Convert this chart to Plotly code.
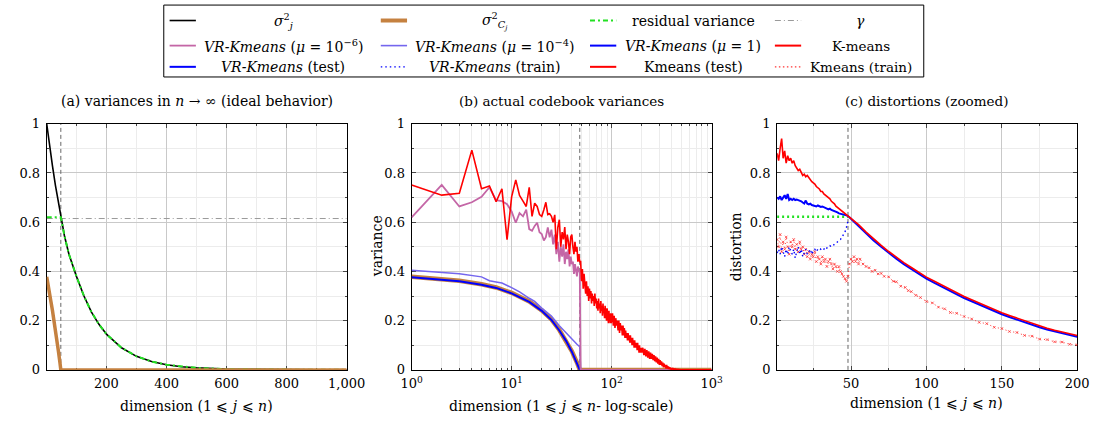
import plotly.graph_objects as go

W, H = 1115, 430
FONT = "DejaVu Serif"


def X(px):
    return px / W


def Y(py):
    return 1 - py / H


# ---------------- data ----------------
cut_dim = 48
gamma_val = 0.615

# panel (a): ideal variances
dims_a = [1, 10, 20, 30, 40, 48, 60, 75, 100, 125, 150, 175, 200, 250, 300, 350,
          400, 450, 500, 600, 700, 800, 900, 1000]
sigma_j = [1.0, 0.915, 0.83, 0.75, 0.68, 0.62, 0.545, 0.47, 0.38, 0.30, 0.235, 0.185,
           0.145, 0.09, 0.055, 0.034, 0.021, 0.013, 0.008, 0.003, 0.0012, 0.0005,
           0.0002, 0.0001]
resid_dims = [1, 48, 60, 75, 100, 125, 150, 175, 200, 250, 300, 350, 400, 450, 500,
              600, 700, 800, 900, 1000]
resid_var = [0.62, 0.62, 0.545, 0.47, 0.38, 0.30, 0.235, 0.185, 0.145, 0.09, 0.055,
             0.034, 0.021, 0.013, 0.008, 0.003, 0.0012, 0.0005, 0.0002, 0.0001]
gamma_dims = [1, 1000]
gamma_line = [gamma_val, gamma_val]

sigC_dims = [1, 2, 3, 5, 7, 10, 15, 20, 25, 30, 35, 40, 45, 48, 1000]
sigma_C = [0.378, 0.369, 0.362, 0.348, 0.335, 0.313, 0.278, 0.242, 0.205, 0.162,
           0.12, 0.076, 0.03, 0.0, 0.0]

# panel (b): actual codebook variances
vr_mu1 = [0.376, 0.367, 0.360, 0.346, 0.333, 0.311, 0.276, 0.240, 0.203, 0.160,
          0.118, 0.074, 0.028, 0.0, 0.0]
mu4_dims = [1, 2, 3, 5, 6, 7, 8, 10, 12, 15, 17, 20, 25, 30, 35, 40, 45, 48, 49, 1000]
vr_mu4 = [0.405, 0.398, 0.391, 0.378, 0.362, 0.357, 0.353, 0.334, 0.317, 0.291,
          0.278, 0.251, 0.219, 0.179, 0.149, 0.123, 0.104, 0.094, 0.0, 0.0]
mu6_dims = list(range(1, 50)) + [1000]
vr_mu6 = [0.62, 0.752, 0.664, 0.681, 0.703, 0.742, 0.690, 0.686, 0.673, 0.644,
          0.598, 0.637, 0.624, 0.651, 0.572, 0.565, 0.585, 0.598, 0.559, 0.552,
          0.526, 0.539, 0.579, 0.539, 0.57, 0.51, 0.55, 0.47, 0.52, 0.44,
          0.50, 0.46, 0.51, 0.43, 0.48, 0.45, 0.49, 0.42, 0.46, 0.43,
          0.44, 0.39, 0.43, 0.41, 0.38, 0.42, 0.40, 0.40, 0.0, 0.0]

km_dims = (list(range(1, 101)) + list(range(102, 201, 2)) + list(range(205, 401, 5))
           + list(range(410, 501, 10)) + list(range(600, 1001, 100)))
km_var = [
    # 1..48
    0.751, 0.71, 0.718, 0.893, 0.736, 0.747, 0.683, 0.736, 0.529, 0.703,
    0.772, 0.709, 0.686, 0.664, 0.742, 0.624, 0.677, 0.664, 0.631, 0.624,
    0.651, 0.681, 0.631, 0.634, 0.624, 0.60, 0.63, 0.49, 0.58, 0.61,
    0.50, 0.56, 0.53, 0.58, 0.49, 0.55, 0.52, 0.47, 0.54, 0.55,
    0.50, 0.47, 0.52, 0.48, 0.50, 0.44, 0.47, 0.44,
    # 49..100
    0.44, 0.36, 0.41, 0.33, 0.39, 0.35, 0.31, 0.36, 0.30, 0.34,
    0.28, 0.33, 0.29, 0.32, 0.27, 0.31, 0.28, 0.30, 0.26, 0.31,
    0.27, 0.29, 0.25, 0.28, 0.24, 0.29, 0.25, 0.27, 0.23, 0.28,
    0.24, 0.26, 0.22, 0.27, 0.23, 0.25, 0.21, 0.26, 0.22, 0.24,
    0.20, 0.25, 0.21, 0.23, 0.19, 0.24, 0.20, 0.22, 0.19, 0.23,
    0.19, 0.21,
    # 102..200 step 2
    0.23, 0.18, 0.22, 0.17, 0.21, 0.18, 0.20, 0.16, 0.20, 0.15,
    0.19, 0.16, 0.18, 0.14, 0.18, 0.14, 0.17, 0.13, 0.16, 0.13,
    0.15, 0.12, 0.15, 0.12, 0.14, 0.11, 0.14, 0.11, 0.13, 0.10,
    0.13, 0.10, 0.12, 0.09, 0.12, 0.09, 0.11, 0.09, 0.11, 0.08,
    0.11, 0.08, 0.10, 0.07, 0.10, 0.07, 0.09, 0.07, 0.09, 0.07,
    # 205..400 step 5
    0.09, 0.06, 0.085, 0.055, 0.08, 0.05, 0.075, 0.045, 0.07, 0.045,
    0.065, 0.04, 0.06, 0.035, 0.055, 0.03, 0.05, 0.025, 0.045, 0.02,
    0.04, 0.02, 0.035, 0.015, 0.03, 0.01, 0.025, 0.01, 0.02, 0.005,
    0.02, 0.005, 0.015, 0.003, 0.012, 0.002, 0.01, 0.001, 0.008, 0.001,
    # 410..500 step 10
    0.006, 0.001, 0.004, 0.0, 0.003, 0.0, 0.002, 0.0, 0.001, 0.0,
    # 600..1000
    0.0, 0.0, 0.0, 0.0, 0.0,
]

# panel (c): distortions
dist_dims = list(range(1, 51)) + list(range(55, 201, 5))
km_test = [
    0.88, 0.85, 0.90, 0.94, 0.86, 0.89, 0.84, 0.87, 0.85, 0.86,
    0.84, 0.85, 0.83, 0.82, 0.81, 0.815, 0.80, 0.79, 0.795, 0.785,
    0.79, 0.78, 0.775, 0.765, 0.76, 0.755, 0.745, 0.74, 0.735, 0.725,
    0.725, 0.715, 0.71, 0.705, 0.70, 0.695, 0.685, 0.68, 0.675, 0.665,
    0.66, 0.655, 0.65, 0.648, 0.64, 0.638, 0.63, 0.627, 0.62, 0.615,
    0.59, 0.56, 0.532, 0.506, 0.481, 0.458, 0.436, 0.416, 0.396, 0.377,
    0.361, 0.345, 0.329, 0.314, 0.298, 0.285, 0.271, 0.258, 0.245, 0.232,
    0.221, 0.210, 0.199, 0.189, 0.178, 0.169, 0.161, 0.153, 0.146, 0.140,
]
vr_test = [
    0.70, 0.695, 0.705, 0.69, 0.70, 0.71, 0.695, 0.715, 0.69, 0.695,
    0.69, 0.695, 0.69, 0.692, 0.69, 0.688, 0.685, 0.68, 0.676, 0.688,
    0.675, 0.672, 0.675, 0.67, 0.668, 0.666, 0.664, 0.668, 0.665, 0.662,
    0.664, 0.66, 0.657, 0.655, 0.652, 0.655, 0.65, 0.648, 0.645, 0.641,
    0.64, 0.636, 0.635, 0.632, 0.633, 0.63, 0.628, 0.625, 0.62, 0.614,
    0.585, 0.554, 0.526, 0.500, 0.475, 0.452, 0.430, 0.410, 0.390, 0.371,
    0.355, 0.339, 0.323, 0.308, 0.292, 0.279, 0.265, 0.252, 0.239, 0.226,
    0.215, 0.204, 0.193, 0.183, 0.173, 0.164, 0.156, 0.148, 0.141, 0.135,
]
resid_c_dims = [1, 48]
resid_c = [0.622, 0.622]
vr_train_dims = list(range(1, 49))
vr_train = [
    0.475, 0.49, 0.47, 0.50, 0.48, 0.46, 0.49, 0.47, 0.50, 0.48,
    0.47, 0.49, 0.455, 0.48, 0.50, 0.47, 0.49, 0.46, 0.48, 0.49,
    0.47, 0.48, 0.49, 0.47, 0.485, 0.49, 0.48, 0.49, 0.495, 0.49,
    0.495, 0.49, 0.50, 0.495, 0.50, 0.505, 0.50, 0.505, 0.51, 0.515,
    0.52, 0.525, 0.53, 0.54, 0.55, 0.56, 0.58, 0.605,
]
km_train_dims = list(range(1, 57)) + [58, 60, 62, 64, 66, 68, 70, 72, 75, 78, 80, 83,
                                      86, 88, 90, 93, 96, 100, 104, 108, 112, 116,
                                      120] + list(range(125, 201, 5))
km_train = [
    0.53, 0.50, 0.55, 0.48, 0.52, 0.49, 0.54, 0.50, 0.47, 0.52,
    0.50, 0.53, 0.49, 0.51, 0.48, 0.52, 0.49, 0.50, 0.47, 0.49,
    0.46, 0.48, 0.45, 0.47, 0.46, 0.48, 0.44, 0.46, 0.45, 0.43,
    0.46, 0.44, 0.45, 0.42, 0.44, 0.45, 0.43, 0.41, 0.43, 0.42,
    0.40, 0.42, 0.40, 0.39, 0.38, 0.37, 0.36, 0.38, 0.43, 0.45,
    0.44, 0.46, 0.44, 0.45, 0.43, 0.45,
    0.43, 0.42, 0.415, 0.40, 0.405, 0.39, 0.392, 0.38, 0.378, 0.36,
    0.358, 0.34, 0.335, 0.322, 0.318, 0.303, 0.294, 0.278, 0.272, 0.255,
    0.248, 0.233, 0.23, 0.217, 0.207, 0.193, 0.188, 0.173, 0.168, 0.156,
    0.152, 0.14, 0.137, 0.125, 0.123, 0.114, 0.113, 0.104, 0.102,
]

assert len(km_dims) == len(km_var)
assert len(dist_dims) == len(km_test) == len(vr_test)
assert len(km_train_dims) == len(km_train)
assert len(mu6_dims) == len(vr_mu6)

# ---------------- styles ----------------
C_BLACK = "#000000"
C_ORANGE = "#c58140"
C_GREEN = "#22e022"
C_GAMMA = "#9a9a9a"
C_PINK = "#c466a6"
C_VIOLET = "#7466ee"
C_BLUE = "#0000ff"
C_RED = "#ff0000"
C_RED_LIGHT = "#ff3535"
C_CUT = "#666666"

fig = go.Figure()


def line(x, y, ax, color, width, dash="solid", mode="lines", marker=None):
    xa, ya = ax
    tr = go.Scatter(x=x, y=y, xaxis=xa, yaxis=ya, mode=mode,
                    line=dict(color=color, width=width, dash=dash),
                    showlegend=False, hoverinfo="skip")
    if marker:
        tr.marker = marker
    fig.add_trace(tr)


A = ("x", "y")
B = ("x2", "y2")
Cc = ("x3", "y3")

# panel a
line([cut_dim, cut_dim], [0, 1], A, C_CUT, 1, "4px,3px")
line(gamma_dims, gamma_line, A, C_GAMMA, 1, "6px,3px,1px,3px")
line(dims_a, sigma_j, A, C_BLACK, 1.6)
line(resid_dims, resid_var, A, C_GREEN, 2, "5px,3px,2px,3px")
line(sigC_dims, sigma_C, A, C_ORANGE, 3.5)

# panel b
line([cut_dim, cut_dim], [0, 1], B, C_CUT, 1, "4px,3px")
line(sigC_dims, sigma_C, B, C_ORANGE, 4.5)
line(sigC_dims, vr_mu1, B, C_BLUE, 2)
line(mu4_dims, vr_mu4, B, C_VIOLET, 1.5)
line(mu6_dims, vr_mu6, B, C_PINK, 1.8)
line(km_dims, km_var, B, C_RED, 1.6)

# panel c
line([cut_dim, cut_dim], [0, 1], Cc, C_CUT, 1, "4px,3px")
line(km_train_dims, km_train, Cc, C_RED_LIGHT, 1, "1px,3px", mode="lines+markers",
     marker=dict(symbol="x-thin", size=2.5, line=dict(color=C_RED_LIGHT, width=0.8)))
line(vr_train_dims, vr_train, Cc, C_BLUE, 1.4, "1.5px,3px")
line(resid_c_dims, resid_c, Cc, C_GREEN, 2.4, "2px,3px")
line(dist_dims, vr_test, Cc, C_BLUE, 2)
line(dist_dims, km_test, Cc, C_RED, 1.6)

# ---------------- axes ----------------
GRID = "#c9c9c9"
MINOR = "#ececec"
TICKFONT = dict(family=FONT, size=13, color="black")


def axis(domain, anchor, tickvals, ticktext, minorvals, rng, atype="linear", standoff=0):
    return dict(domain=domain, anchor=anchor, type=atype, range=rng,
                showline=True, linecolor="black", linewidth=1, mirror="ticks",
                ticks="inside", ticklen=4, tickcolor="#444", tickwidth=1,
                tickmode="array", tickvals=tickvals, ticktext=ticktext,
                showgrid=True, gridcolor=GRID, gridwidth=1, zeroline=False,
                tickfont=TICKFONT, layer="below traces", ticklabelstandoff=standoff,
                minor=dict(tickmode="array", tickvals=minorvals, ticks="inside",
                           ticklen=2, tickcolor="#444", showgrid=True,
                           gridcolor=MINOR, gridwidth=1))


ytv = [0, 0.2, 0.4, 0.6, 0.8, 1]
ytt = ["0", "0.2", "0.4", "0.6", "0.8", "1"]
ymv = [0.1, 0.3, 0.5, 0.7, 0.9]
ydom = [Y(376), Y(121)]

log_minor = [m * 10 ** e for e in range(3) for m in range(2, 10)]

fig.update_layout(
    xaxis=axis([X(36.7), X(345)], "y", [200, 400, 600, 800, 1000],
               ["200", "400", "600", "800", "1,000"], [100, 300, 500, 700, 900], [1, 1000],
               standoff=2),
    yaxis=axis(ydom, "x", ytv, ytt, ymv, [0, 1], standoff=3),
    xaxis2=axis([X(411.7), X(720)], "y2", [1, 10, 100, 1000],
                ["10<sup>0</sup>", "10<sup>1</sup>", "10<sup>2</sup>", "10<sup>3</sup>"],
                log_minor, [0, 3], "log", standoff=2),
    yaxis2=axis(ydom, "x2", ytv, ytt, ymv, [0, 1], standoff=3),
    xaxis3=axis([X(787.3), X(1095.7)], "y3", [50, 100, 150, 200],
                ["50", "100", "150", "200"], [25, 75, 125, 175], [1, 200], standoff=2),
    yaxis3=axis(ydom, "x3", ytv, ytt, ymv, [0, 1], standoff=3),
)

# ---------------- text ----------------
ann = []


def text(px, py, s, size=14, angle=0, xanchor="center"):
    ann.append(dict(x=X(px), y=Y(py), xref="paper", yref="paper", text=s,
                    showarrow=False, xanchor=xanchor, yanchor="middle",
                    textangle=angle, font=dict(family=FONT, size=size, color="black")))


text(191, 97, "(a) variances in <i>n</i> → ∞ (ideal behavior)", 14)
text(566, 97, "(b) actual codebook variances", 13.5)
text(941, 97, "(c) distortions (zoomed)", 13.5)
text(191, 413, "dimension (1 ⩽ <i>j</i> ⩽ <i>n</i>)", 14)
text(566, 413, "dimension (1 ⩽ <i>j</i> ⩽ <i>n</i>- log-scale)", 14)
text(941, 410, "dimension (1 ⩽ <i>j</i> ⩽ <i>n</i>)", 14)
text(376, 248, "variance", 14, -90)
text(745, 248, "distortion", 14, -90)

# ---------------- legend (drawn manually) ----------------
shapes = [dict(type="rect", xref="paper", yref="paper", x0=X(157), x1=X(938),
               y0=Y(72.5), y1=Y(-2), line=dict(color="black", width=1),
               fillcolor="white", layer="above")]
rows = [14, 40, 62]
samples = [(163, 190), (380, 407), (595, 622), (785, 812)]
centers = [280, 497, 701, 873]
legend_items = [
    [("<i>σ</i><sup>2</sup><sub><i>j</i></sub>", C_BLACK, 1.6, "solid"),
     ("<i>σ</i><sup>2</sup><sub><i>C<sub>j</sub></i></sub>", C_ORANGE, 4, "solid"),
     ("residual variance", C_GREEN, 2, "5px,3px,2px,3px"),
     ("<i>γ</i>", C_GAMMA, 1, "6px,3px,1px,3px")],
    [("<i>VR-Kmeans</i> (<i>μ</i> = 10<sup>−6</sup>)", C_PINK, 1.8, "solid"),
     ("<i>VR-Kmeans</i> (<i>μ</i> = 10<sup>−4</sup>)", C_VIOLET, 1.6, "solid"),
     ("<i>VR-Kmeans</i> (<i>μ</i> = 1)", C_BLUE, 2, "solid"),
     ("K-means", C_RED, 2, "solid")],
    [("<i>VR-Kmeans</i> (test)", C_BLUE, 2, "solid"),
     ("<i>VR-Kmeans</i> (train)", C_BLUE, 1.4, "1.5px,3px"),
     ("Kmeans (test)", C_RED, 2, "solid"),
     ("Kmeans (train)", C_RED_LIGHT, 1.4, "1.5px,2.5px")],
]
legend_sizes = [14, 14, 14, 13.5]
for r, row in enumerate(legend_items):
    for c, (label, color, width, dash) in enumerate(row):
        x0, x1 = samples[c]
        shapes.append(dict(type="line", xref="paper", yref="paper", x0=X(x0), x1=X(x1),
                           y0=Y(rows[r]), y1=Y(rows[r]),
                           line=dict(color=color, width=width, dash=dash), layer="above"))
        text(centers[c], rows[r], label, legend_sizes[c] if r else 14)

fig.update_layout(
    width=W, height=H, margin=dict(l=0, r=0, t=0, b=0),
    paper_bgcolor="white", plot_bgcolor="white",
    showlegend=False, annotations=ann, shapes=shapes,
    font=dict(family=FONT, size=14, color="black"),
)

fig.write_html("out.html")
